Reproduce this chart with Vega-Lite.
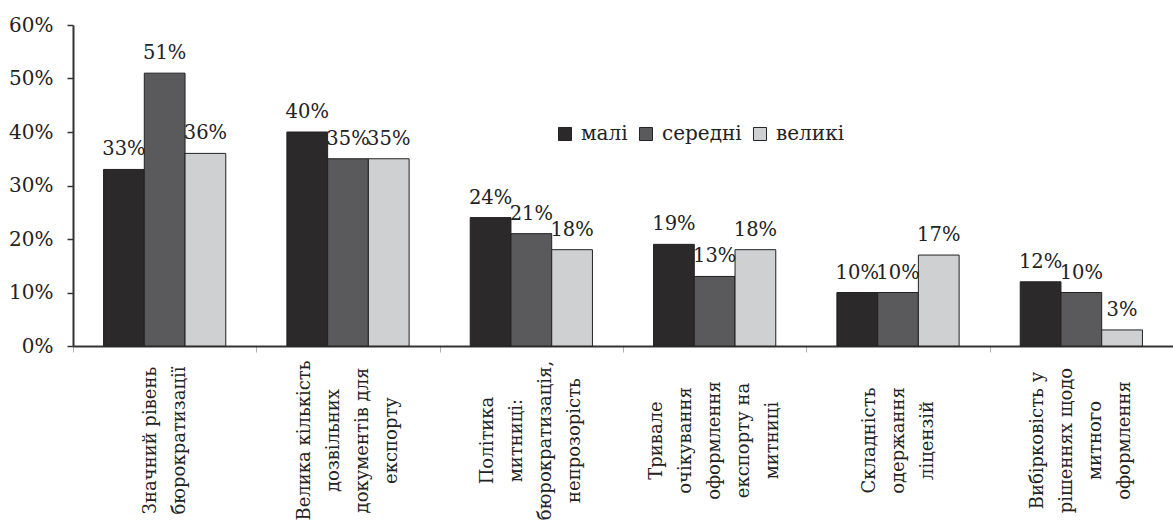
{
  "$schema": "https://vega.github.io/schema/vega-lite/v6.json",
  "width": 1100,
  "height": 321,
  "autosize": {"type": "none"},
  "padding": {"left": 73, "top": 25, "right": 0, "bottom": 178},
  "background": "white",
  "config": {
    "font": "DejaVu Serif",
    "view": {"stroke": null}
  },
  "data": {
    "values": [
      {"cat": "Значний рівень|бюрократизації", "group": "малі", "value": 0.33},
      {"cat": "Значний рівень|бюрократизації", "group": "середні", "value": 0.51},
      {"cat": "Значний рівень|бюрократизації", "group": "великі", "value": 0.36},
      {"cat": "Велика кількість|дозвільних|документів для|експорту", "group": "малі", "value": 0.40},
      {"cat": "Велика кількість|дозвільних|документів для|експорту", "group": "середні", "value": 0.35},
      {"cat": "Велика кількість|дозвільних|документів для|експорту", "group": "великі", "value": 0.35},
      {"cat": "Політика|митниці:|бюрократизація,|непрозорість", "group": "малі", "value": 0.24},
      {"cat": "Політика|митниці:|бюрократизація,|непрозорість", "group": "середні", "value": 0.21},
      {"cat": "Політика|митниці:|бюрократизація,|непрозорість", "group": "великі", "value": 0.18},
      {"cat": "Тривале|очікування|оформлення|експорту на|митниці", "group": "малі", "value": 0.19},
      {"cat": "Тривале|очікування|оформлення|експорту на|митниці", "group": "середні", "value": 0.13},
      {"cat": "Тривале|очікування|оформлення|експорту на|митниці", "group": "великі", "value": 0.18},
      {"cat": "Складність|одержання|ліцензій", "group": "малі", "value": 0.10},
      {"cat": "Складність|одержання|ліцензій", "group": "середні", "value": 0.10},
      {"cat": "Складність|одержання|ліцензій", "group": "великі", "value": 0.17},
      {"cat": "Вибірковість у|рішеннях щодо|митного|оформлення", "group": "малі", "value": 0.12},
      {"cat": "Вибірковість у|рішеннях щодо|митного|оформлення", "group": "середні", "value": 0.10},
      {"cat": "Вибірковість у|рішеннях щодо|митного|оформлення", "group": "великі", "value": 0.03}
    ]
  },
  "encoding": {
    "x": {
      "field": "cat",
      "type": "nominal",
      "sort": null,
      "scale": {"paddingInner": 0, "paddingOuter": 0},
      "axis": {
        "title": null,
        "labelExpr": "split(datum.label, '|')",
        "labelFont": "DejaVu Serif",
        "labelAngle": -90,
        "labelAlign": "center",
        "labelBaseline": "middle",
        "labelPadding": 88,
        "labelOffset": {"expr": "-(length(split(datum.label, '|')) - 1) * 14.5"},
        "labelLineHeight": 29,
        "labelFontSize": 18,
        "labelColor": "#222222",
        "labelLimit": 400,
        "labelOverlap": false,
        "tickBand": "extent",
        "tickSize": 6,
        "tickColor": "#b0b0b0",
        "tickWidth": 1,
        "domainColor": "#333333",
        "domainWidth": 2
      }
    },
    "xOffset": {
      "field": "group",
      "type": "nominal",
      "sort": ["малі", "середні", "великі"],
      "scale": {"paddingInner": 0, "paddingOuter": 0.75}
    },
    "y": {
      "field": "value",
      "type": "quantitative",
      "scale": {"domain": [0, 0.6], "nice": false},
      "axis": {
        "title": null,
        "format": ".0%",
        "values": [0, 0.1, 0.2, 0.3, 0.4, 0.5, 0.6],
        "grid": false,
        "labelFont": "DejaVu Serif",
        "labelFontSize": 20,
        "labelColor": "#222222",
        "labelPadding": 14,
        "tickSize": 6,
        "tickColor": "#333333",
        "tickWidth": 1.5,
        "domainColor": "#333333",
        "domainWidth": 2
      }
    }
  },
  "layer": [
    {
      "mark": {"type": "bar", "stroke": "#222222", "strokeWidth": 1},
      "encoding": {
        "color": {
          "field": "group",
          "type": "nominal",
          "sort": ["малі", "середні", "великі"],
          "scale": {"domain": ["малі", "середні", "великі"], "range": ["#2b292a", "#5a5a5c", "#cfd0d2"]},
          "legend": {
            "title": null,
            "orient": "none",
            "legendX": 482,
            "legendY": 99,
            "direction": "horizontal",
            "symbolType": "square",
            "symbolSize": 170,
            "symbolStrokeColor": "#222222",
            "symbolStrokeWidth": 1,
            "labelFont": "DejaVu Serif",
            "labelFontSize": 20,
            "labelColor": "#222222",
            "labelOffset": 6,
            "columnPadding": 8
          }
        }
      }
    },
    {
      "mark": {"type": "text", "font": "DejaVu Serif", "baseline": "alphabetic", "dy": -14, "fontSize": 19.5, "color": "#222222"},
      "encoding": {
        "text": {"field": "value", "type": "quantitative", "format": ".0%"}
      }
    }
  ]
}
